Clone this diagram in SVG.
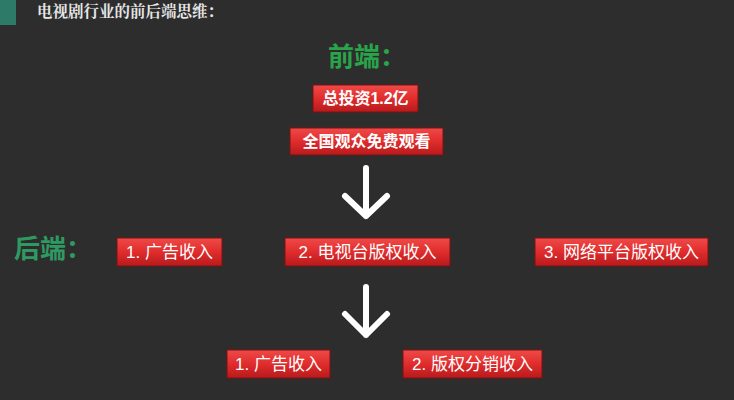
<svg xmlns="http://www.w3.org/2000/svg" width="734" height="400" viewBox="0 0 734 400">
<defs>
<linearGradient id="rg" x1="0" y1="0" x2="0" y2="1">
<stop offset="0" stop-color="#ef4a48"/>
<stop offset="0.5" stop-color="#e02c2c"/>
<stop offset="1" stop-color="#b81a1c"/>
</linearGradient>
</defs>
<style>
.box{fill:url(#rg);stroke:#7a1212;stroke-width:1}
.t{font-family:"Liberation Sans","Noto Sans CJK SC",sans-serif;font-size:17px;fill:#ffffff;text-anchor:middle}
.b{font-weight:bold;font-size:16px}
.h{font-family:"Noto Sans CJK SC",sans-serif;font-size:26px;font-weight:bold}
.arr{fill:none;stroke:#ffffff;stroke-width:6;stroke-linecap:round;stroke-linejoin:round}
</style>
<rect width="734" height="400" fill="#2d2d2d"/>
<rect x="0" y="0" width="16" height="25" fill="#2e7a68"/>
<text x="37" y="17" font-family="'Noto Serif CJK SC','Noto Sans CJK SC',serif" font-size="15.5" font-weight="bold" fill="#e6e6e6">电视剧行业的前后端思维：</text>
<text class="h" x="328" y="66" fill="#2aa44a">前端：</text>
<text class="h" x="14" y="258" fill="#2e9a62">后端：</text>
<g id="n1"><rect class="box" x="313" y="85" width="105" height="27"/><text class="t b" x="365.5" y="104">总投资1.2亿</text></g>
<g id="n2"><rect class="box" x="290" y="128" width="153" height="27"/><text class="t b" x="366.5" y="147">全国观众免费观看</text></g>
<g id="n3"><rect class="box" x="117" y="238" width="105" height="28"/><text class="t" x="169.5" y="258">1. 广告收入</text></g>
<g id="n4"><rect class="box" x="285" y="238" width="165" height="28"/><text class="t" x="367.5" y="258">2. 电视台版权收入</text></g>
<g id="n5"><rect class="box" x="535" y="238" width="173" height="28"/><text class="t" x="621.5" y="258">3. 网络平台版权收入</text></g>
<g id="n6"><rect class="box" x="227" y="350" width="103" height="28"/><text class="t" x="278.5" y="370">1. 广告收入</text></g>
<g id="n7"><rect class="box" x="403" y="350" width="139" height="28"/><text class="t" x="472.5" y="370">2. 版权分销收入</text></g>
<g id="connectors">
<path class="arr" d="M366 168 V216 M345 196 L366 216 L387 196"/>
<path class="arr" d="M366 287 V335 M345 314 L366 335 L387 314"/>
</g>
</svg>
